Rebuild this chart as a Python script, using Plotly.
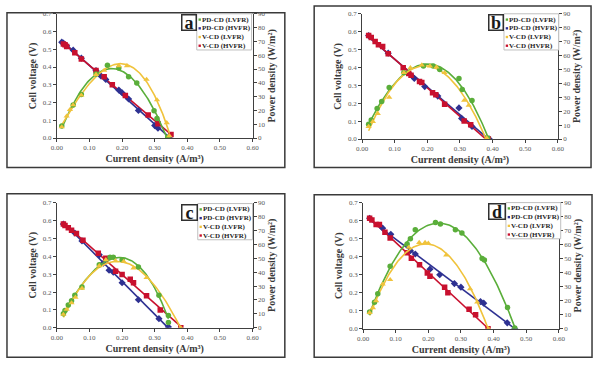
import numpy as np
import plotly.graph_objects as go

# ---------------- data ----------------
panel_letters = ["a", "b", "c", "d"]
series_names = ["PD-CD (LVFR)", "PD-CD (HVFR)", "V-CD (LVFR)", "V-CD (HVFR)"]
series_colors = ["#5aae3a", "#2e3192", "#f0c33c", "#c8102e"]
series_symbols = ["circle", "diamond", "triangle-up", "square"]
x_title = "Current density (A/m³)"
v_title = "Cell voltage (V)"
p_title = "Power density (W/m²)"

# panel a
a_green_x = [0.015, 0.05, 0.075, 0.12, 0.155, 0.19, 0.22, 0.245, 0.298, 0.307, 0.34]
a_green_y = [8.7, 24.0, 31.6, 46.4, 52.8, 50.7, 44.3, 39.8, 19.8, 14.1, 0.5]
a_blue_x = [0.015, 0.02, 0.03, 0.05, 0.075, 0.12, 0.135, 0.15, 0.19, 0.2, 0.22, 0.25, 0.3, 0.31, 0.345]
a_blue_y = [0.54, 0.535, 0.52, 0.495, 0.45, 0.38, 0.35, 0.33, 0.27, 0.255, 0.22, 0.155, 0.07, 0.055, 0.0]
a_yellow_x = [0.015, 0.03, 0.04, 0.05, 0.075, 0.12, 0.145, 0.19, 0.215, 0.275, 0.307, 0.337, 0.345]
a_yellow_y = [8.0, 15.8, 20.5, 24.0, 31.0, 46.0, 49.0, 52.3, 52.3, 42.4, 27.6, 11.0, 1.6]
a_red_x = [0.02, 0.025, 0.03, 0.055, 0.075, 0.12, 0.145, 0.17, 0.21, 0.28, 0.31, 0.35]
a_red_y = [0.53, 0.525, 0.515, 0.48, 0.445, 0.38, 0.345, 0.30, 0.24, 0.13, 0.08, 0.02]

# panel b
b_green_x = [0.02, 0.028, 0.046, 0.06, 0.083, 0.128, 0.188, 0.218, 0.238, 0.297, 0.307, 0.337, 0.385]
b_green_y = [10.6, 13.6, 21.9, 27.0, 37.1, 47.7, 52.4, 52.4, 50.0, 43.5, 35.5, 27.7, 0.7]
b_blue_x = [0.02, 0.08, 0.16, 0.192, 0.232, 0.297, 0.305, 0.337, 0.39]
b_blue_y = [0.578, 0.48, 0.338, 0.293, 0.24, 0.174, 0.115, 0.07, 0.0]
b_yellow_x = [0.02, 0.033, 0.048, 0.083, 0.128, 0.148, 0.183, 0.208, 0.228, 0.253, 0.313, 0.327, 0.382]
b_yellow_y = [8.9, 12.5, 18.3, 30.0, 47.7, 51.2, 53.1, 52.4, 51.7, 47.7, 27.7, 24.2, 0.7]
b_red_x = [0.02, 0.028, 0.04, 0.05, 0.063, 0.08, 0.126, 0.143, 0.15, 0.176, 0.183, 0.216, 0.226, 0.253, 0.313, 0.333, 0.387]
b_red_y = [0.578, 0.567, 0.545, 0.527, 0.517, 0.477, 0.399, 0.366, 0.357, 0.322, 0.316, 0.258, 0.247, 0.194, 0.10, 0.079, 0.0]

# panel c
c_green_x = [0.02, 0.025, 0.035, 0.045, 0.055, 0.077, 0.13, 0.163, 0.173, 0.2, 0.25, 0.313, 0.342, 0.342]
c_green_y = [10.1, 12.5, 16.4, 19.5, 23.5, 29.4, 45.3, 50.8, 50.8, 48.9, 43.7, 23.5, 8.9, 3.8]
c_blue_x = [0.02, 0.055, 0.077, 0.13, 0.143, 0.16, 0.173, 0.2, 0.25, 0.313, 0.342]
c_blue_y = [0.58, 0.53, 0.486, 0.408, 0.362, 0.322, 0.311, 0.252, 0.157, 0.051, 0.005]
c_yellow_x = [0.02, 0.03, 0.045, 0.057, 0.077, 0.13, 0.15, 0.18, 0.205, 0.235, 0.275, 0.38]
c_yellow_y = [9.6, 13.2, 17.9, 21.9, 28.4, 44.6, 48.9, 48.2, 47.7, 43.0, 36.0, 0.0]
c_red_x = [0.02, 0.025, 0.035, 0.045, 0.06, 0.08, 0.127, 0.15, 0.18, 0.2, 0.225, 0.235, 0.275, 0.317, 0.38]
c_red_y = [0.581, 0.572, 0.559, 0.545, 0.527, 0.49, 0.417, 0.389, 0.316, 0.298, 0.271, 0.252, 0.179, 0.10, 0.0]

# panel d
d_green_x = [0.02, 0.035, 0.045, 0.083, 0.135, 0.145, 0.16, 0.222, 0.237, 0.283, 0.303, 0.365, 0.372, 0.443, 0.465]
d_green_y = [12.0, 19.0, 25.0, 44.6, 60.5, 64.3, 70.6, 75.8, 74.8, 70.6, 68.4, 50.2, 49.1, 15.2, 0.5]
d_blue_x = [0.02, 0.06, 0.085, 0.145, 0.16, 0.205, 0.235, 0.28, 0.3, 0.36, 0.37, 0.442, 0.465]
d_blue_y = [0.613, 0.558, 0.524, 0.433, 0.415, 0.331, 0.30, 0.251, 0.231, 0.151, 0.142, 0.033, 0.0]
d_yellow_x = [0.02, 0.03, 0.04, 0.06, 0.083, 0.14, 0.172, 0.19, 0.2, 0.255, 0.328, 0.35, 0.385]
d_yellow_y = [11.5, 15.0, 20.0, 31.8, 35.0, 58.0, 61.5, 61.5, 61.0, 52.6, 28.5, 19.0, 0.0]
d_red_x = [0.02, 0.027, 0.04, 0.05, 0.067, 0.083, 0.135, 0.148, 0.173, 0.197, 0.205, 0.25, 0.26, 0.325, 0.345, 0.383]
d_red_y = [0.613, 0.604, 0.578, 0.578, 0.536, 0.504, 0.422, 0.391, 0.355, 0.309, 0.291, 0.231, 0.20, 0.109, 0.078, 0.0]

panels = [
    [(a_green_x, a_green_y), (a_blue_x, a_blue_y), (a_yellow_x, a_yellow_y), (a_red_x, a_red_y)],
    [(b_green_x, b_green_y), (b_blue_x, b_blue_y), (b_yellow_x, b_yellow_y), (b_red_x, b_red_y)],
    [(c_green_x, c_green_y), (c_blue_x, c_blue_y), (c_yellow_x, c_yellow_y), (c_red_x, c_red_y)],
    [(d_green_x, d_green_y), (d_blue_x, d_blue_y), (d_yellow_x, d_yellow_y), (d_red_x, d_red_y)],
]
# which series are plotted on the power-density (right) axis
on_power_axis = [True, False, True, False]

x_ticks = [0.0, 0.1, 0.2, 0.3, 0.4, 0.5, 0.6]
v_ticks = [0.0, 0.1, 0.2, 0.3, 0.4, 0.5, 0.6, 0.7]
p_ticks = [0, 10, 20, 30, 40, 50, 60, 70, 80, 90]

# ---------------- layout geometry (pixels) ----------------
W, H = 600, 369
# plot area: left, right, top, bottom
plot_px = [(52, 252, 10, 137), (364, 564, 10, 138), (52, 252, 203, 331), (365, 565, 203, 332)]
frame_px = [(1, 285, 9, 167), (315, 598, 2, 167), (1, 285, 194, 361), (315, 599, 195, 361)]
letter_px = [(180, 195, 10), (494, 509, 10), (180, 196, 204), (494, 511, 203)]
LEG_W, LEG_H = 56, 37
LEG_FS = 7
LEG_LINE = 8.9

def px_x(v):
    return v / W

def px_y(v):
    return 1 - v / H

SERIF = "Liberation Serif"
TICKFONT = dict(family=SERIF, size=7, color="#595959")
TITLEFONT = dict(family=SERIF, size=10, color="#3a3a3a", weight="bold")
AXCOL = "#404040"

fig = go.Figure()
layout = dict(
    width=W, height=H, margin=dict(l=0, r=0, t=0, b=0),
    paper_bgcolor="white", plot_bgcolor="rgba(0,0,0,0)",
    showlegend=False, shapes=[], annotations=[],
)

for i, series in enumerate(panels):
    xa = "x" if i == 0 else f"x{i + 1}"
    yl = "y" if i == 0 else f"y{2 * i + 1}"
    yr = f"y{2 * i + 2}"
    xkey = "xaxis" if i == 0 else f"xaxis{i + 1}"
    ylkey = "yaxis" if i == 0 else f"yaxis{2 * i + 1}"
    yrkey = f"yaxis{2 * i + 2}"
    L, R, T, B = plot_px[i]

    layout[xkey] = dict(
        domain=[px_x(L), px_x(R)], anchor=yl, range=[0, 0.6],
        tickvals=x_ticks, tickformat=".2f", showgrid=False, zeroline=False,
        showline=True, linecolor=AXCOL, linewidth=1, ticks="outside", ticklen=3,
        tickcolor=AXCOL, tickfont=TICKFONT,
        title=dict(text=x_title, font=TITLEFONT, standoff=3),
    )
    layout[ylkey] = dict(
        domain=[px_y(B), px_y(T)], anchor=xa, range=[0, 0.7],
        tickvals=v_ticks, tickformat=".1f", showgrid=False, zeroline=False,
        showline=True, linecolor=AXCOL, linewidth=1, ticks="outside", ticklen=3,
        tickcolor=AXCOL, tickfont=TICKFONT,
        title=dict(text=v_title, font=TITLEFONT, standoff=4),
    )
    layout[yrkey] = dict(
        domain=[px_y(B), px_y(T)], anchor=xa, overlaying=yl, side="right",
        range=[0, 90], tickvals=p_ticks, showgrid=False, zeroline=False,
        showline=True, linecolor=AXCOL, linewidth=1, ticks="outside", ticklen=3,
        tickcolor=AXCOL, tickfont=TICKFONT,
        title=dict(text=p_title, font=TITLEFONT, standoff=3),
    )

    # trend lines (least-squares fits of the read points, like spreadsheet trendlines)
    for k, (sx, sy) in enumerate(series):
        xs = np.array(sx)
        ys = np.array(sy)
        deg = 3 if on_power_axis[k] else 1
        coef = np.polyfit(xs, ys, deg)
        xf = np.linspace(xs.min(), xs.max(), 120)
        yf = np.polyval(coef, xf)
        fig.add_trace(go.Scatter(
            x=xf, y=yf, mode="lines", xaxis=xa, yaxis=yr if on_power_axis[k] else yl,
            line=dict(color=series_colors[k], width=1.6), hoverinfo="skip",
        ))
    # markers
    for k, (sx, sy) in enumerate(series):
        fig.add_trace(go.Scatter(
            x=sx, y=sy, mode="markers", name=series_names[k],
            xaxis=xa, yaxis=yr if on_power_axis[k] else yl,
            marker=dict(color=series_colors[k], symbol=series_symbols[k], size=5.5,
                        line=dict(width=0)),
        ))

    # panel frame
    fl, fr, ft, fb = frame_px[i]
    layout["shapes"].append(dict(
        type="rect", xref="paper", yref="paper",
        x0=px_x(fl), x1=px_x(fr), y0=px_y(fb), y1=px_y(ft),
        line=dict(color="#3a3a3a", width=1.5), fillcolor="rgba(0,0,0,0)", layer="below",
    ))

    # letter box
    lx0, lx1, ly = letter_px[i]
    layout["annotations"].append(dict(
        xref="paper", yref="paper", x=px_x(lx1), y=px_y(ly), xanchor="right", yanchor="top",
        text=panel_letters[i], showarrow=False,
        font=dict(family=SERIF, size=18, color="#1a1a1a", weight="bold"),
        width=lx1 - lx0 - 2, height=14, bgcolor="white",
        bordercolor="#303030", borderwidth=1.5, borderpad=0, valign="middle",
    ))

    # legend (manual box)
    layout["shapes"].append(dict(
        type="rect", xref="paper", yref="paper",
        x0=px_x(lx1), x1=px_x(lx1 + LEG_W), y0=px_y(ly + LEG_H), y1=px_y(ly),
        line=dict(color="#bfbfbf", width=1), fillcolor="white", layer="above",
    ))
    for k in range(4):
        yc_px = ly + 1.5 + LEG_LINE * (k + 0.5)
        layout["annotations"].append(dict(
            xref="paper", yref="paper", x=px_x(lx1 + 5), y=px_y(yc_px),
            xanchor="left", yanchor="middle", text=series_names[k], showarrow=False,
            font=dict(family=SERIF, size=LEG_FS, color="#262626", weight="bold"),
            borderpad=0, borderwidth=0,
        ))
        layout["shapes"].append(dict(
            type="rect", xref="paper", yref="paper",
            x0=px_x(lx1 + 1.8), x1=px_x(lx1 + 4.2),
            y0=px_y(yc_px + 1.2), y1=px_y(yc_px - 1.2),
            line=dict(width=0), fillcolor=series_colors[k], layer="above",
        ))

fig.update_layout(**layout)
fig.write_html("out.html")
